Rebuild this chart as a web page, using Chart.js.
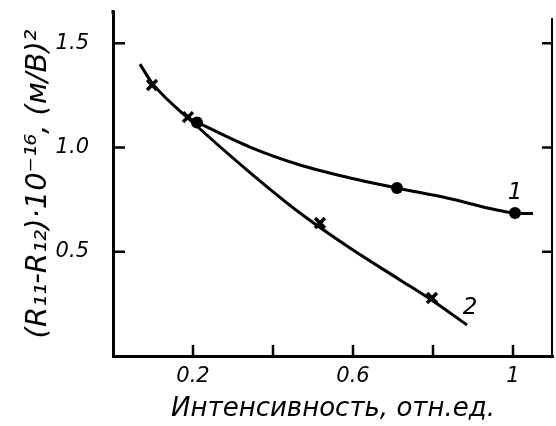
<!DOCTYPE html>
<html>
<head>
<meta charset="utf-8">
<script src="https://cdn.jsdelivr.net/npm/chart.js@4/dist/chart.umd.min.js"></script>
<style>
html,body{margin:0;padding:0;background:#fff;}
canvas{display:block;}
</style>
</head>
<body>
<canvas id="c" width="556" height="426"></canvas>
<script>
// ---- data ----
const curve1X = [0.19, 0.3425, 0.4675, 0.5925, 0.71, 0.835, 1.005, 1.05];
const curve1Y = [1.14, 1.002, 0.916, 0.854, 0.806, 0.758, 0.686, 0.683];
const curve2X = [0.0675, 0.0975, 0.2, 0.3425, 0.4675, 0.5925, 0.7175, 0.80, 0.885];
const curve2Y = [1.40, 1.31, 1.12, 0.88, 0.686, 0.518, 0.365, 0.264, 0.149];
const circleX = [0.21, 0.71, 1.005];
const circleY = [1.12, 0.806, 0.686];
const crossX = [0.0975, 0.1875, 0.5175, 0.7975];
const crossY = [1.30, 1.146, 0.638, 0.278];
const xTickValues = [0.2, 0.4, 0.6, 0.8, 1.0];
const xLabeledTicks = [0.2, 0.6, 1.0];
const yTickValues = [0.5, 1.0, 1.5];
const curveNames = ['1', '2'];
const curveNameX = [1.005, 0.8925];
const curveNameY = [0.78, 0.23];
const xTitle = 'Интенсивность, отн.ед.';
const yTitle = '(R₁₁-R₁₂)·10⁻¹⁶, (м/В)²';

const FONT = 'DejaVu Sans';
const near = (a, list) => list.some(v => Math.abs(v - a) < 1e-6);
const pts = (xs, ys) => xs.map((x, i) => ({x: x, y: ys[i]}));
const zeroPad = s => { s.paddingLeft = 0; s.paddingRight = 0; s.paddingTop = 0; s.paddingBottom = 0; };

const decor = {
  id: 'decor',
  afterDraw(chart) {
    const ctx = chart.ctx, xs = chart.scales.x, ys = chart.scales.y, a = chart.chartArea;
    ctx.save();
    ctx.strokeStyle = '#000';
    ctx.lineCap = 'butt';
    // left axis runs a little above the plot area
    ctx.lineWidth = 3;
    ctx.beginPath(); ctx.moveTo(a.left, a.top + 2); ctx.lineTo(a.left, a.top - 2); ctx.stroke();
    // inward ticks on the left axis
    ctx.lineWidth = 2.5;
    yTickValues.forEach(v => {
      const py = ys.getPixelForValue(v);
      ctx.beginPath(); ctx.moveTo(a.left, py); ctx.lineTo(a.left + 12, py); ctx.stroke();
    });
    // inward ticks on the bottom axis
    xTickValues.forEach(v => {
      const px = xs.getPixelForValue(v);
      ctx.beginPath(); ctx.moveTo(px, a.bottom); ctx.lineTo(px, a.bottom - 11); ctx.stroke();
    });
    // right frame line with inward ticks
    ctx.lineWidth = 2;
    ctx.beginPath(); ctx.moveTo(a.right - 1, a.bottom); ctx.lineTo(a.right - 1, a.top + 6); ctx.stroke();
    ctx.lineWidth = 2.5;
    yTickValues.forEach(v => {
      const py = ys.getPixelForValue(v);
      ctx.beginPath(); ctx.moveTo(a.right - 1, py); ctx.lineTo(a.right - 11, py); ctx.stroke();
    });
    // curve numbers
    ctx.fillStyle = '#000';
    ctx.font = 'italic 23px ' + FONT;
    ctx.textAlign = 'center';
    ctx.textBaseline = 'middle';
    curveNames.forEach((t, i) => {
      ctx.fillText(t, xs.getPixelForValue(curveNameX[i]), ys.getPixelForValue(curveNameY[i]));
    });
    ctx.restore();
  }
};

new Chart(document.getElementById('c'), {
  type: 'scatter',
  data: {
    datasets: [
      {data: pts(curve1X, curve1Y), showLine: true, borderColor: '#000', borderWidth: 3,
       pointRadius: 0, cubicInterpolationMode: 'monotone'},
      {data: pts(curve2X, curve2Y), showLine: true, borderColor: '#000', borderWidth: 3,
       pointRadius: 0, cubicInterpolationMode: 'monotone'},
      {data: pts(circleX, circleY), showLine: false, pointStyle: 'circle', pointRadius: 6,
       backgroundColor: '#000', borderColor: '#000', borderWidth: 0},
      {data: pts(crossX, crossY), showLine: false, pointStyle: 'crossRot', pointRadius: 7,
       borderColor: '#000', borderWidth: 3.5}
    ]
  },
  options: {
    responsive: false,
    animation: false,
    devicePixelRatio: 1,
    layout: {autoPadding: false, padding: {left: 0, right: 3, top: 12, bottom: 0}},
    plugins: {legend: {display: false}, tooltip: {enabled: false}},
    scales: {
      x: {
        type: 'linear', min: 0, max: 1.1,
        afterBuildTicks(s) { s.ticks = xTickValues.map(v => ({value: v})); },
        afterFit(s) { s.height = 70; zeroPad(s); },
        grid: {display: false, drawTicks: false},
        border: {display: true, color: '#000', width: 3},
        ticks: {
          padding: 8, color: '#000', maxRotation: 0, autoSkip: false,
          font: {family: FONT, size: 21, style: 'italic'},
          callback: v => near(v, xLabeledTicks) ? (Math.abs(v - 1) < 1e-6 ? '1' : v.toFixed(1)) : ''
        },
        title: {display: true, text: xTitle, color: '#000',
          font: {family: FONT, size: 26, style: 'italic'}, padding: {top: 0, bottom: 1}}
      },
      y: {
        type: 'linear', min: 0, max: 1.65,
        afterBuildTicks(s) { s.ticks = yTickValues.map(v => ({value: v})); },
        afterFit(s) { s.width = 113; zeroPad(s); },
        grid: {display: false, drawTicks: false},
        border: {display: true, color: '#000', width: 3},
        ticks: {
          padding: 24, color: '#000', autoSkip: false,
          font: {family: FONT, size: 21, style: 'italic'},
          callback: v => v.toFixed(1)
        },
        title: {display: true, text: yTitle, color: '#000',
          font: {family: FONT, size: 29, style: 'italic'}, padding: {top: 21, bottom: 0}}
      }
    }
  },
  plugins: [decor]
});
</script>
</body>
</html>
